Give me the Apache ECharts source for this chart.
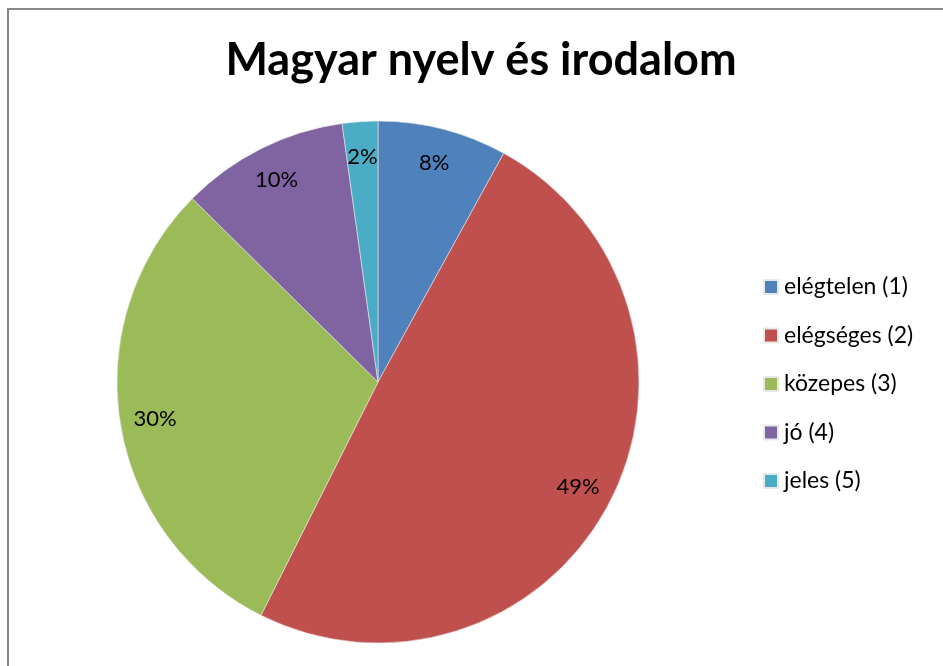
<!DOCTYPE html>
<html>
<head>
    <meta charset="utf-8">
    <title>Magyar nyelv és irodalom</title>
    <script src="https://cdn.jsdelivr.net/npm/echarts@6/dist/echarts.min.js"></script>
</head>
<body style="margin:0">
    <div id="main" style="width: 943px;height:666px;"></div>
    <script type="text/javascript">
        // adatok
        var grades = ['elégtelen (1)', 'elégséges (2)', 'közepes (3)', 'jó (4)', 'jeles (5)'];
        var shares = [8.0, 49.4, 30.0, 10.4, 2.2];
        var colors = ['#4F81BD', '#C0504D', '#9BBB59', '#8064A2', '#4BACC6'];

        var myChart = echarts.init(document.getElementById('main'));

        var total = shares.reduce(function (a, b) { return a + b; }, 0);

        var pieData = grades.map(function (g, i) {
            return { name: g, value: shares[i], itemStyle: { color: colors[i] } };
        });

        var font = 'Lato, "Open Sans", sans-serif';

        var option = {
            animation: false,
            backgroundColor: '#fff',
            title: {
                text: 'Magyar nyelv és irodalom',
                left: 476,
                textAlign: 'center',
                top: 33,
                textStyle: { fontFamily: font, fontSize: 45, fontWeight: 'bold', color: '#000' }
            },
            graphic: [{
                type: 'rect',
                shape: { x: 8, y: 9, width: 960, height: 700 },
                style: { fill: 'none', stroke: '#878787', lineWidth: 2 },
                silent: true
            }],
            legend: {
                orient: 'vertical',
                left: 763,
                top: 275,
                padding: 0,
                itemWidth: 14,
                itemHeight: 14,
                itemGap: 24.5,
                icon: 'rect',
                data: grades,
                textStyle: {
                    fontFamily: font, fontSize: 23, color: '#000',
                    lineHeight: 24, padding: [0, 0, 0, 1]
                }
            },
            series: [{
                type: 'pie',
                center: [378, 382],
                radius: 261,
                startAngle: 90,
                clockwise: true,
                label: { show: false },
                labelLine: { show: false },
                itemStyle: { borderColor: '#e8e8e8', borderWidth: 0.6 },
                emphasis: { disabled: true },
                data: pieData
            }, {
                // csak a címkék helye miatt
                type: 'pie',
                center: [378, 382],
                radius: [194, 252],
                startAngle: 90,
                clockwise: true,
                silent: true,
                itemStyle: { color: 'rgba(0,0,0,0)' },
                label: {
                    show: true,
                    position: 'inside',
                    formatter: function (p) {
                        return Math.round(p.value / total * 100) + '%';
                    },
                    fontFamily: font,
                    fontSize: 22,
                    color: '#000'
                },
                labelLine: { show: false },
                emphasis: { disabled: true },
                data: grades.map(function (g, i) { return { name: g, value: shares[i] }; })
            }]
        };

        myChart.setOption(option);
    </script>
</body>
</html>
